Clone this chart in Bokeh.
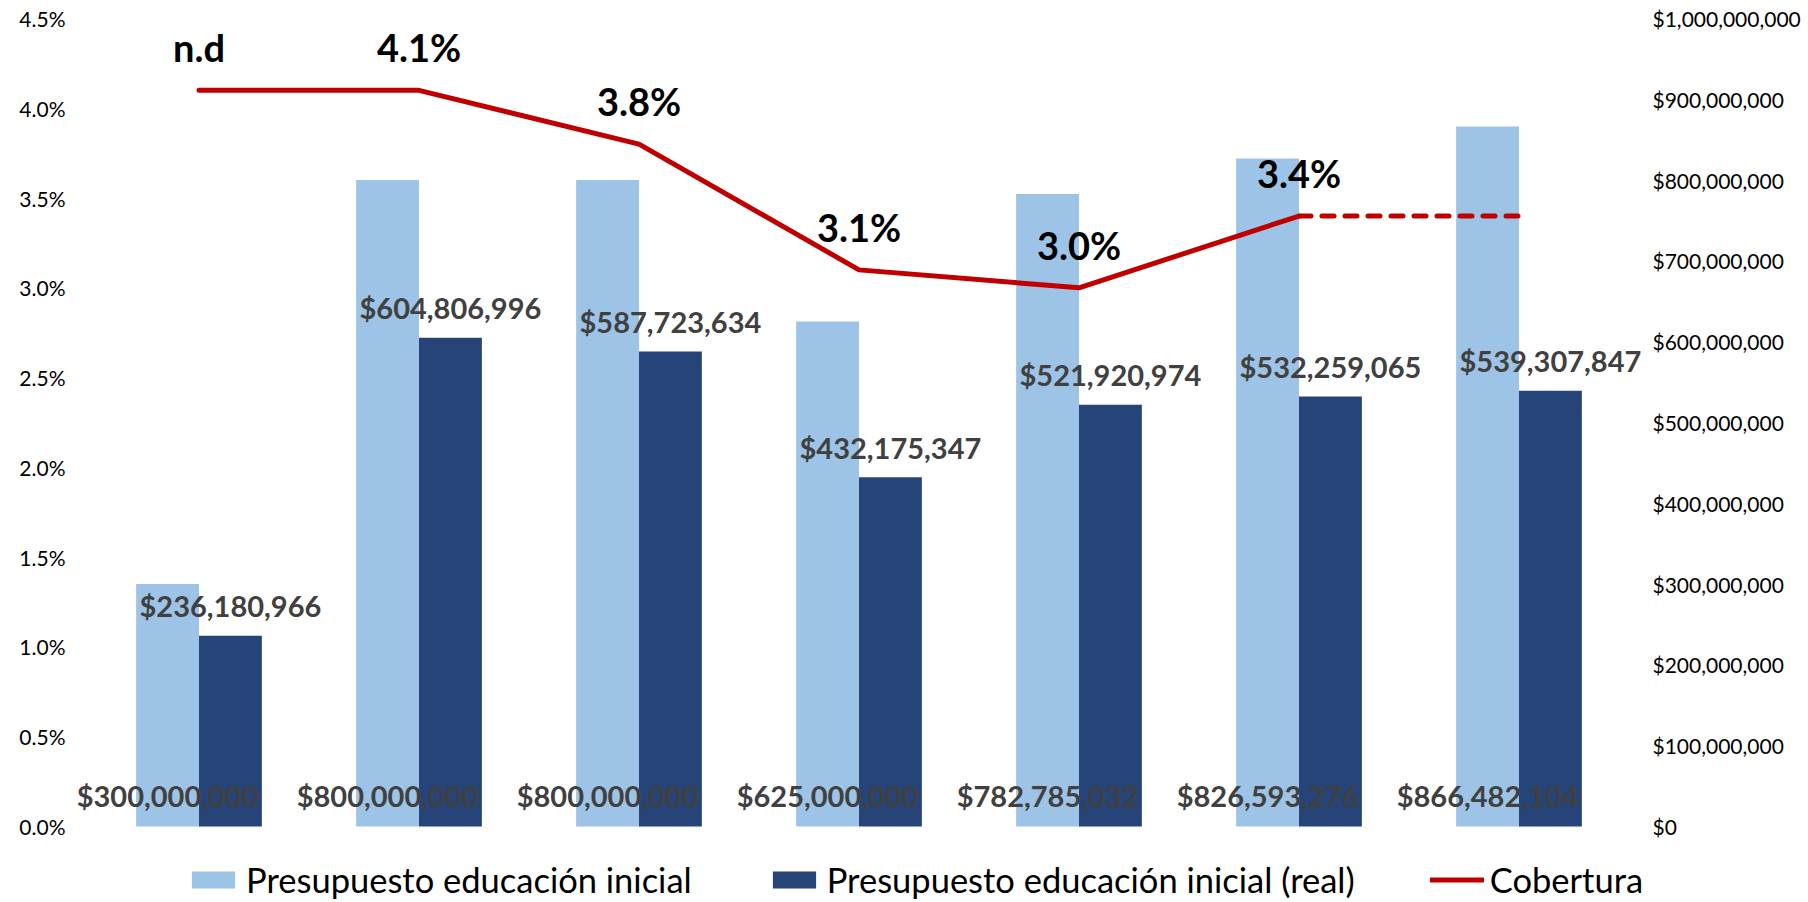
from bokeh.plotting import figure
from bokeh.models import (ColumnDataSource, Range1d, LinearAxis, FixedTicker,
                          NumeralTickFormatter, Legend, LegendItem)
from bokeh.core.properties import value
from bokeh.embed import file_html
from bokeh.resources import INLINE

# ---------------- data ----------------
categories = ["1", "2", "3", "4", "5", "6", "7"]
presupuesto = [300000000, 800000000, 800000000, 625000000, 782785032, 826593276, 866482104]
presupuesto_real = [236180966, 604806996, 587723634, 432175347, 521920974, 532259065, 539307847]
cobertura = [0.041, 0.041, 0.038, 0.031, 0.030, 0.034]
cobertura_labels = ["n.d", "4.1%", "3.8%", "3.1%", "3.0%", "3.4%"]
cobertura_proyeccion = [0.034, 0.034]
left_ticks = [0.0, 0.005, 0.01, 0.015, 0.02, 0.025, 0.03, 0.035, 0.04, 0.045]
right_ticks = [0, 100000000, 200000000, 300000000, 400000000, 500000000,
               600000000, 700000000, 800000000, 900000000, 1000000000]

LIGHT = "#9DC3E6"
DARK = "#264478"
RED = "#C00000"
FONT = "Lato"

# layout (pixels)
CAT_PX = 220.0          # width of one category
PAD_PX = 18.5           # frame space beyond the first / last category
AXIS_PX = 808.0         # height from 0 to the axis maximum
BELOW_PX = 76.0         # frame space below the zero line (holds legend)
FRAME_W = int(round(len(categories) * CAT_PX + 2 * PAD_PX))
FRAME_H = int(AXIS_PX + BELOW_PX)

pos = list(range(len(categories)))
pad = PAD_PX / CAT_PX
pct_max = left_ticks[-1]
money_max = right_ticks[-1]

src = ColumnDataSource(dict(
    pos=pos,
    light_x=[i - 1/7 for i in pos],
    dark_x=[i + 1/7 for i in pos],
    presupuesto=presupuesto,
    real=presupuesto_real,
    presupuesto_label=[f"${v:,.0f}" for v in presupuesto],
    real_label=[f"${v:,.0f}" for v in presupuesto_real],
))

p = figure(x_range=Range1d(-0.5 - pad, len(categories) - 0.5 + pad),
           y_range=Range1d(-pct_max * BELOW_PX / AXIS_PX, pct_max),
           frame_width=FRAME_W, frame_height=FRAME_H,
           min_border_left=70, min_border_top=18, min_border_bottom=0, min_border_right=4,
           output_backend="svg", toolbar_location=None, x_axis_location=None)
p.extra_y_ranges = {"money": Range1d(-money_max * BELOW_PX / AXIS_PX, money_max)}
p.grid.visible = False
p.outline_line_color = None
p.background_fill_color = "white"
p.border_fill_color = "white"

right_axis = LinearAxis(y_range_name="money")
p.add_layout(right_axis, "right")

left_axis = p.yaxis[0]
left_axis.ticker = FixedTicker(ticks=left_ticks)
left_axis.formatter = NumeralTickFormatter(format="0.0%")
right_axis.ticker = FixedTicker(ticks=right_ticks)
right_axis.formatter = NumeralTickFormatter(format="$0,0")
for ax in (left_axis, right_axis):
    ax.axis_line_color = None
    ax.major_tick_line_color = None
    ax.minor_tick_line_color = None
    ax.major_tick_out = 0
    ax.major_tick_in = 0
    ax.minor_tick_out = 0
    ax.minor_tick_in = 0
    ax.major_label_text_font = FONT
    ax.major_label_text_font_size = "21px"
    ax.major_label_text_color = "black"
    ax.major_label_standoff = 5

r_light = p.vbar(x="light_x", top="presupuesto", width=2/7,
                 source=src, y_range_name="money", fill_color=LIGHT, line_color=None)
r_dark = p.vbar(x="dark_x", top="real", width=2/7,
                source=src, y_range_name="money", fill_color=DARK, line_color=None)

r_line = p.line(x=pos[:6], y=cobertura, line_color=RED, line_width=5,
                line_cap="round", line_join="round")
p.line(x=pos[5:], y=cobertura_proyeccion, line_color=RED, line_width=5,
       line_cap="round", line_dash="12 11")

p.text(x=pos[:6], y=cobertura, text=cobertura_labels, text_font=value(FONT),
       text_font_style="bold", text_font_size="38px", text_color="black",
       text_align="center", text_baseline="middle", y_offset=-43)

p.text(x="dark_x", y="real", text="real_label", source=src,
       y_range_name="money", text_font=value(FONT), text_font_style="bold",
       text_font_size="29px", text_color="#404040", text_align="center",
       text_baseline="middle", y_offset=-30)
p.text(x="light_x", y=0, text="presupuesto_label", source=src,
       y_range_name="money", text_font=value(FONT), text_font_style="bold",
       text_font_size="29px", text_color="#404040", text_align="center",
       text_baseline="middle", y_offset=-31)

legend = Legend(items=[
    LegendItem(label="Presupuesto educación inicial", renderers=[r_light]),
    LegendItem(label="Presupuesto educación inicial (real)", renderers=[r_dark]),
    LegendItem(label="Cobertura", renderers=[r_line]),
], orientation="horizontal", location=(116, 2), glyph_width=54, glyph_height=21,
    label_standoff=6, spacing=75, padding=0, margin=0, border_line_color=None,
    background_fill_alpha=0, label_text_font=FONT, label_text_font_size="34.5px",
    label_text_color="black")
p.add_layout(legend)

open("out.html", "w").write(file_html(p, INLINE))
